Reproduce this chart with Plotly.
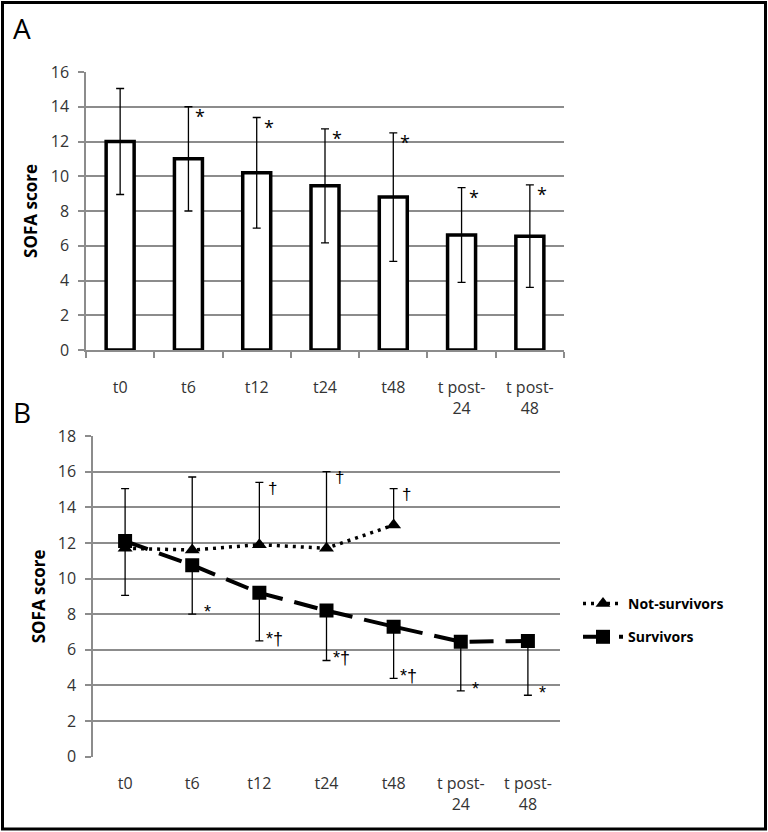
import plotly.graph_objects as go

# ---------------- data ----------------
categories = ["t0", "t6", "t12", "t24", "t48", "t post-<br>24", "t post-<br>48"]

# Panel A: all patients
sofa_mean = [12.0, 11.0, 10.2, 9.45, 8.8, 6.62, 6.55]
sofa_sd = [3.05, 3.0, 3.18, 3.28, 3.7, 2.73, 2.95]
marks_A = ["", "*", "*", "*", "*", "*", "*"]

# Panel B: survivors vs not-survivors
nonsurv_mean = [11.7, 11.6, 11.9, 11.7, 13.0]
nonsurv_sd_up = [3.35, 4.1, 3.5, 4.3, 2.05]
marks_nonsurv = ["", "", "†", "†", "†"]

surv_mean = [12.1, 10.75, 9.2, 8.2, 7.3, 6.45, 6.5]
surv_sd_down = [3.05, 2.75, 2.7, 2.8, 2.9, 2.75, 3.05]
marks_surv = ["", "*", "*†", "*†", "*†", "*", "*"]

W, H = 768, 832
FONT = "Open Sans"
MARKFONT = "Liberation Sans"
GRID = "#8c8c8c"
TICKCOL = "#333333"

fig = go.Figure()

# Panel A bars
fig.add_trace(go.Bar(
    x=categories, y=sofa_mean, width=0.41,
    marker=dict(color="white", line=dict(color="black", width=3.5)),
    error_y=dict(type="data", array=sofa_sd, color="black", thickness=1.3, width=4),
    xaxis="x", yaxis="y", showlegend=False,
))

# Panel B lines
fig.add_trace(go.Scatter(
    x=categories[:len(nonsurv_mean)], y=nonsurv_mean, mode="lines+markers",
    name="Not-survivors", legendgroup="ns",
    line=dict(color="black", width=3.5, dash="3px,5px"),
    marker=dict(symbol="triangle-up", size=13, color="black"),
    error_y=dict(type="data", symmetric=False, array=nonsurv_sd_up,
                 arrayminus=[0] * len(nonsurv_mean), color="black", thickness=1.3, width=4),
    xaxis="x2", yaxis="y2",
))
fig.add_trace(go.Scatter(
    x=categories, y=surv_mean, mode="lines+markers",
    name="Survivors", legendgroup="s",
    line=dict(color="black", width=4, dash="24px,12px"),
    marker=dict(symbol="square", size=14, color="black"),
    error_y=dict(type="data", symmetric=False, array=[0] * len(surv_mean),
                 arrayminus=surv_sd_down, color="black", thickness=1.3, width=4),
    xaxis="x2", yaxis="y2",
))

ann = []
# significance marks panel A
for i, (m, v, s) in enumerate(zip(marks_A, sofa_mean, sofa_sd)):
    if m:
        ann.append(dict(x=i, y=v + s, xref="x", yref="y", text=m, showarrow=False,
                        xshift=12, yshift=-9, font=dict(size=18, family=FONT, color="black")))
# panel B marks
for i, (m, v, s) in enumerate(zip(marks_nonsurv, nonsurv_mean, nonsurv_sd_up)):
    if m:
        ann.append(dict(x=i, y=v + s, xref="x2", yref="y2", text=m, showarrow=False,
                        xshift=13, yshift=-6, font=dict(size=17, family=MARKFONT, color="black")))
for i, (m, v, s) in enumerate(zip(marks_surv, surv_mean, surv_sd_down)):
    if m:
        ann.append(dict(x=i, y=v - s, xref="x2", yref="y2", text=m, showarrow=False,
                        xshift=15, yshift=2, font=dict(size=18, family=MARKFONT, color="black")))

# panel letters
ann.append(dict(x=22 / W, y=1 - 28 / H, xref="paper", yref="paper", text="A", showarrow=False,
                xanchor="center", yanchor="middle",
                font=dict(size=28, family=FONT, color="black")))
ann.append(dict(x=22 / W, y=1 - 412 / H, xref="paper", yref="paper", text="B", showarrow=False,
                xanchor="center", yanchor="middle",
                font=dict(size=28, family=FONT, color="black")))

common_y = dict(showline=True, linecolor=GRID, linewidth=1.5,
                ticks="outside", ticklen=6, tickcolor=GRID, tickwidth=1.5,
                showgrid=True, gridcolor=GRID, gridwidth=1.5, zeroline=False,
                ticklabelstandoff=6, automargin=False,
                tickfont=dict(size=16, family=FONT, color=TICKCOL))

fig.update_layout(
    template="none",
    width=W, height=H,
    margin=dict(l=0, r=0, t=0, b=0, pad=0, autoexpand=False),
    paper_bgcolor="white", plot_bgcolor="white",
    font=dict(family=FONT, size=15, color=TICKCOL),
    annotations=ann,
    legend=dict(x=578 / W, y=1 - 588 / H, xanchor="left", yanchor="top",
                font=dict(size=14, family=FONT, color="black", weight="bold"),
                bgcolor="rgba(0,0,0,0)", traceorder="grouped", tracegroupgap=12,
                itemwidth=40),
    shapes=[dict(type="rect", xref="paper", yref="paper",
                 x0=2.5 / W, x1=765.5 / W, y0=1 - 829 / H, y1=1 - 2.5 / H,
                 line=dict(color="black", width=3))],
    xaxis=dict(domain=[86 / W, 564 / W], anchor="y", type="category",
               showline=True, linecolor=GRID, linewidth=1.5,
               ticks="outside", tickson="boundaries", ticklen=6, tickcolor=GRID, tickwidth=1.5,
               ticklabelstandoff=22, showgrid=False, automargin=False,
               tickfont=dict(size=16, family=FONT, color=TICKCOL)),
    yaxis=dict(domain=[1 - 350 / H, 1 - 72 / H], anchor="x", range=[0, 16], dtick=2,
               title=dict(text="<b>SOFA score</b>", standoff=9,
                          font=dict(size=17, family=FONT, color="black")),
               **common_y),
    xaxis2=dict(domain=[93 / W, 560 / W], anchor="y2", type="category",
                showline=False, ticks="", showgrid=False, ticklabelstandoff=15,
                automargin=False,
                tickfont=dict(size=16, family=FONT, color=TICKCOL)),
    yaxis2=dict(domain=[1 - 756.7 / H, 1 - 436 / H], anchor="x2", range=[0, 18], dtick=2,
                title=dict(text="<b>SOFA score</b>", standoff=8,
                           font=dict(size=17, family=FONT, color="black")),
                **common_y),
)

post = (
    "document.documentElement.style.margin='0';"
    "document.documentElement.style.padding='0';"
    "document.documentElement.style.overflow='hidden';"
    "document.body.style.margin='0';document.body.style.padding='0';"
    "document.body.style.overflow='hidden';"
    "var d=document.getElementById('{plot_id}');"
    "d.style.position='fixed';d.style.top='0px';d.style.left='0px';"
)
fig.write_html("out.html", post_script=post, config={"displayModeBar": False})
